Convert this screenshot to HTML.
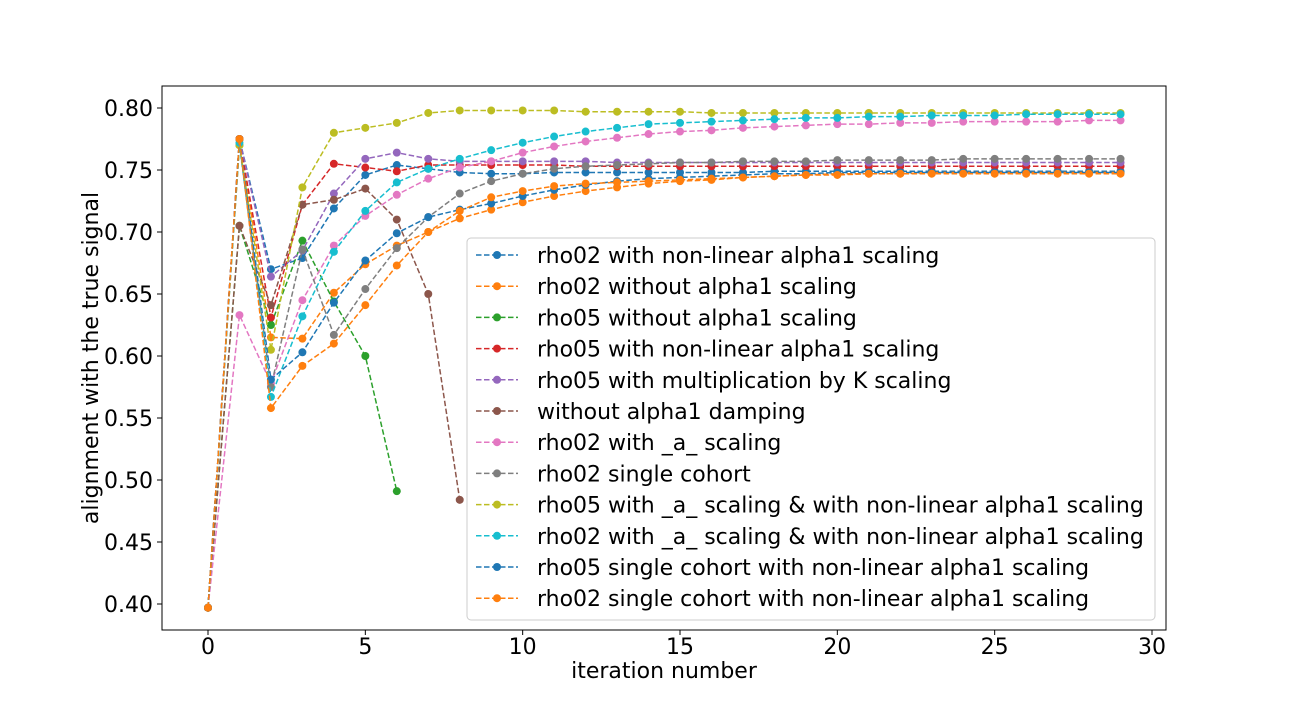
<!DOCTYPE html>
<html><head><meta charset="utf-8"><style>
body{margin:0;background:#fff;}
svg text{font-family:"DejaVu Sans","Liberation Sans",sans-serif;fill:#000;}
</style></head><body>
<svg id="chart" width="1296" height="720" xmlns="http://www.w3.org/2000/svg">
<rect x="0" y="0" width="1296" height="720" fill="#fff"/>
<g id="plot"></g>
</svg>
<script>
const iterations=[0,1,2,3,4,5,6,7,8,9,10,11,12,13,14,15,16,17,18,19,20,21,22,23,24,25,26,27,28,29];
const seriesNames=["rho02 with non-linear alpha1 scaling","rho02 without alpha1 scaling","rho05 without alpha1 scaling","rho05 with non-linear alpha1 scaling","rho05 with multiplication by K scaling","without alpha1 damping","rho02 with _a_ scaling","rho02 single cohort","rho05 with _a_ scaling & with non-linear alpha1 scaling","rho02 with _a_ scaling & with non-linear alpha1 scaling","rho05 single cohort with non-linear alpha1 scaling","rho02 single cohort with non-linear alpha1 scaling"];
const seriesColors=["#1f77b4","#ff7f0e","#2ca02c","#d62728","#9467bd","#8c564b","#e377c2","#7f7f7f","#bcbd22","#17becf","#1f77b4","#ff7f0e"];
const s0=[0.397,0.775,0.670,0.679,0.719,0.746,0.754,0.751,0.748,0.747,0.747,0.748,0.748,0.748,0.748,0.748,0.748,0.748,0.749,0.749,0.749,0.749,0.749,0.749,0.749,0.749,0.749,0.749,0.749,0.749];
const s1=[0.397,0.775,0.615,0.614,0.651,0.674,0.689,0.700,0.711,0.718,0.724,0.729,0.733,0.736,0.739,0.741,0.742,0.744,0.745,0.746,0.747,0.747,0.747,0.748,0.748,0.748,0.748,0.748,0.748,0.748];
const s2=[0.397,0.705,0.625,0.693,0.644,0.600,0.491];
const s3=[0.397,0.775,0.631,0.722,0.755,0.752,0.749,0.754,0.754,0.754,0.754,0.754,0.753,0.753,0.753,0.753,0.753,0.753,0.753,0.753,0.753,0.753,0.753,0.753,0.753,0.753,0.753,0.753,0.753,0.753];
const s4=[0.397,0.775,0.664,0.685,0.731,0.759,0.764,0.759,0.757,0.757,0.757,0.757,0.757,0.756,0.756,0.756,0.756,0.756,0.756,0.756,0.756,0.756,0.756,0.756,0.756,0.756,0.756,0.756,0.756,0.756];
const s5=[0.397,0.705,0.641,0.722,0.726,0.735,0.710,0.650,0.484];
const s6=[0.397,0.633,0.578,0.645,0.689,0.713,0.730,0.743,0.752,0.757,0.764,0.769,0.773,0.776,0.779,0.781,0.782,0.784,0.785,0.786,0.787,0.787,0.788,0.788,0.789,0.789,0.789,0.789,0.790,0.790];
const s7=[0.397,0.770,0.575,0.686,0.617,0.654,0.687,0.712,0.731,0.741,0.747,0.751,0.753,0.754,0.755,0.756,0.756,0.757,0.757,0.757,0.758,0.758,0.758,0.758,0.759,0.759,0.759,0.759,0.759,0.759];
const s8=[0.397,0.770,0.605,0.736,0.780,0.784,0.788,0.796,0.798,0.798,0.798,0.798,0.797,0.797,0.797,0.797,0.796,0.796,0.796,0.796,0.796,0.796,0.796,0.796,0.796,0.796,0.796,0.796,0.796,0.796];
const s9=[0.397,0.772,0.567,0.632,0.684,0.717,0.740,0.751,0.759,0.766,0.772,0.777,0.781,0.784,0.787,0.788,0.789,0.790,0.791,0.792,0.792,0.793,0.793,0.794,0.794,0.794,0.795,0.795,0.795,0.795];
const s10=[0.397,0.775,0.581,0.603,0.643,0.677,0.699,0.712,0.718,0.723,0.729,0.734,0.738,0.741,0.743,0.744,0.745,0.746,0.747,0.747,0.748,0.748,0.748,0.748,0.748,0.748,0.748,0.748,0.748,0.748];
const s11=[0.397,0.775,0.558,0.592,0.610,0.641,0.673,0.700,0.717,0.728,0.733,0.737,0.739,0.740,0.741,0.742,0.743,0.744,0.745,0.746,0.746,0.747,0.747,0.747,0.747,0.747,0.747,0.747,0.747,0.747];
const allSeries=[s0,s1,s2,s3,s4,s5,s6,s7,s8,s9,s10,s11];
const xTicks=[0,5,10,15,20,25,30];
const yTicks=[0.40,0.45,0.50,0.55,0.60,0.65,0.70,0.75,0.80];

const NS="http://www.w3.org/2000/svg";
const g=document.getElementById('plot');
const L=162,R=1166,T=86,B=630;
function xs(v){return 208+v*(1152-208)/30;}
function ys(v){return 604-(v-0.40)*(604-108)/0.40;}
function mk(tag,attrs,parent){const e=document.createElementNS(NS,tag);for(const k in attrs)e.setAttribute(k,attrs[k]);(parent||g).appendChild(e);return e;}

allSeries.forEach((s,i)=>{
  const grp=mk('g',{});
  
  
  const pts=s.map((v,j)=>xs(iterations[j])+','+ys(v)).join(' ');
  const pl=mk('polyline',{points:pts,fill:'none',stroke:seriesColors[i],'stroke-width':1.5,'stroke-dasharray':'5.5,2.5'},grp);
  
  
  s.forEach((v,j)=>{
    const c=mk('circle',{cx:xs(iterations[j]),cy:ys(v),r:4,fill:seriesColors[i]},grp);
    
    
  });
});

const frame=mk('rect',{x:L,y:T,width:R-L,height:B-T,fill:'none',stroke:'#000','stroke-width':1});



xTicks.forEach(t=>{
  mk('line',{x1:xs(t),x2:xs(t),y1:B,y2:B+5,stroke:'#000'});
  const tx=mk('text',{x:xs(t),y:B+24,'text-anchor':'middle','font-size':22});
  tx.textContent=t;
  
  
});
yTicks.forEach(t=>{
  mk('line',{x1:L-5,x2:L,y1:ys(t),y2:ys(t),stroke:'#000'});
  const tx=mk('text',{x:L-9,y:ys(t)+8,'text-anchor':'end','font-size':22});
  tx.textContent=t.toFixed(2);
  
  
});
const xl=mk('text',{x:664,y:678,'text-anchor':'middle','font-size':22});
xl.textContent='iteration number';


const yl=mk('text',{x:0,y:0,'text-anchor':'middle','font-size':22,transform:'translate(98,358) rotate(-90)'});
yl.textContent='alignment with the true signal';



const lg=mk('g',{});


mk('rect',{x:467,y:238,width:688,height:382,rx:4,fill:'#fff','fill-opacity':0.8,stroke:'#ccc'},lg);
seriesNames.forEach((n,i)=>{
  const y=255+i*31.2;
  const e=mk('g',{},lg);
  
  
  mk('line',{x1:476,x2:518,y1:y,y2:y,stroke:seriesColors[i],'stroke-width':1.5,'stroke-dasharray':'5.5,2.5'},e);
  mk('circle',{cx:497,cy:y,r:4,fill:seriesColors[i]},e);
  const t=mk('text',{x:537,y:y+8,'font-size':22},e);
  t.textContent=n;
});
</script>
</body></html>
